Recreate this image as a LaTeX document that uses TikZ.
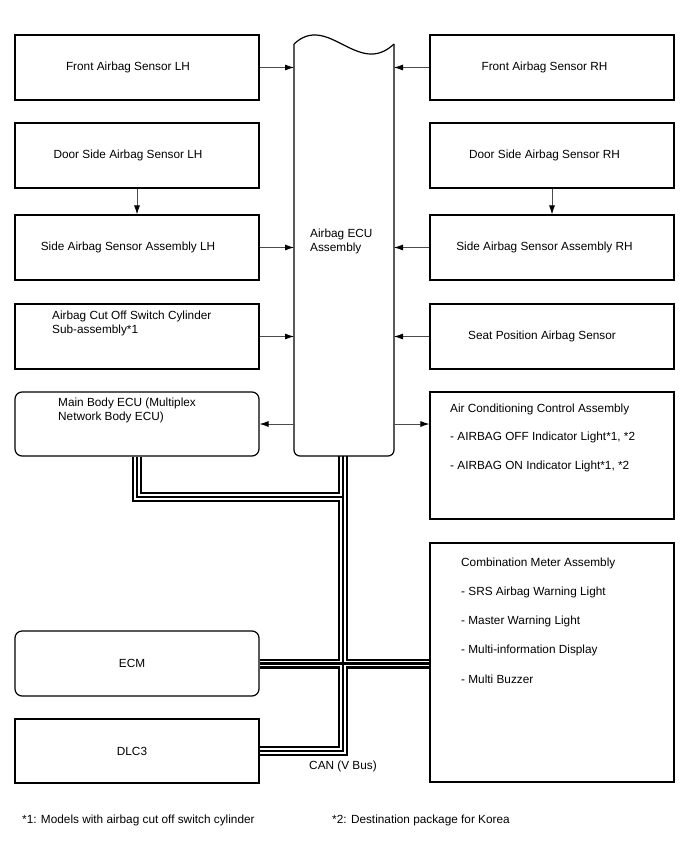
\documentclass[tikz,border=0pt]{standalone}
\usepackage{fontspec}
\setmainfont{Liberation Sans}
\usetikzlibrary{arrows.meta,backgrounds}

\begin{document}
\begin{tikzpicture}[x=1pt,y=-1pt,
	every node/.style={font=\fontsize{11.8}{14}\selectfont},
	box/.style={draw, line width=1.2pt, minimum width=244pt, minimum height=65pt, inner sep=0pt},
	rbox/.style={box, rounded corners=7pt},
	txt/.style={anchor=north west, align=left, inner sep=0pt},
	sig/.style={draw=black!70, line width=0.8pt, -{Latex[length=9pt,width=6pt,color=black]}}]
	\useasboundingbox (0,0) rectangle (688,852);

	% left column
	\node[box, label={[xshift=-9pt]center:Front Airbag Sensor LH}] (flh) at (137,67.5) {};
	\node[box, label={[xshift=-9pt]center:Door Side Airbag Sensor LH}] (dlh) at (137,155.5) {};
	\node[box, label={[xshift=-9pt]center:Side Airbag Sensor Assembly LH}] (slh) at (137,247.5) {};
	\node[box] (cut) at (137,336.5) {};
	\node[txt] (cuttxt) at (52,310.5) {Airbag Cut Off Switch Cylinder\\Sub-assembly*1};
	\node[rbox, minimum height=64pt] (mb) at (137,424) {};
	\node[txt] (mbtxt) at (58,397.5) {Main Body ECU (Multiplex\\Network Body ECU)};
	\node[rbox, label={[xshift=-5pt]center:ECM}] (ecm) at (137,663.5) {};
	\node[box, minimum height=64pt, label={[xshift=-5pt]center:DLC3}] (dlc) at (137,751) {};

	% right column
	\node[box, label={[xshift=-7.5pt]center:Front Airbag Sensor RH}] (frh) at (552,67.5) {};
	\node[box, label={[xshift=-7.5pt]center:Door Side Airbag Sensor RH}] (drh) at (552,155.5) {};
	\node[box, label={[xshift=-7.5pt]center:Side Airbag Sensor Assembly RH}] (srh) at (552,247.5) {};
	\node[box, label={[xshift=-10pt]center:Seat Position Airbag Sensor}] (seat) at (552,336.5) {};
	\node[box, minimum height=127pt] (ac) at (552,455.5) {};
	\node[txt, font=\fontsize{11.8}{28.5}\selectfont] (actxt) at (450,403.5)
		{Air Conditioning Control Assembly\\- AIRBAG OFF Indicator Light*1, *2\\- AIRBAG ON Indicator Light*1, *2};
	\node[box, minimum height=239pt] (comb) at (552,662.5) {};
	\node[txt, font=\fontsize{11.8}{29.2}\selectfont] (combtxt) at (461,557.5)
		{Combination Meter Assembly\\- SRS Airbag Warning Light\\- Master Warning Light\\- Multi-information Display\\- Multi Buzzer};

	% airbag ECU
	\coordinate (ecuL) at (294,0);
	\coordinate (ecuR) at (394,0);
	\draw[line width=1.2pt, rounded corners=6pt] (294,44) -- (294,456) -- (394,456) -- (394,44);
	\draw[line width=1.2pt] (294,44) .. controls (328,12) and (358,78) .. (394,44);
	\node[txt] (ecutxt) at (310,228.5) {Airbag ECU\\Assembly};

	% signals
	\draw[sig] (flh.east) -- (flh.east -| ecuL);
	\draw[sig] (slh.east) -- (slh.east -| ecuL);
	\draw[sig] (cut.east) -- (cut.east -| ecuL);
	\draw[sig] (frh.west) -- (frh.west -| ecuR);
	\draw[sig] (srh.west) -- (srh.west -| ecuR);
	\draw[sig] (seat.west) -- (seat.west -| ecuR);
	\draw[sig] (mb.east -| ecuL) -- (mb.east);
	\draw[sig] (mb.east -| ecuR) -- (mb.east -| ac.west);
	\draw[sig] (dlh) -- (slh);
	\draw[sig] (drh) -- (srh);

	% CAN bus
	\coordinate (bus) at (343,456);
	\coordinate (mbj) at (343,497);
	\begin{scope}[on background layer]
	\foreach \w/\c in {10/black,5.6/white,2.4/black}
	{
		\draw[line width=\w pt, \c] (bus) -- (bus |- dlc.east) -- (dlc.east);
		\draw[line width=\w pt, \c] (mb.south) |- (mbj);
		\draw[line width=\w pt, \c] (ecm.east) -- (ecm.east -| comb.west);
	}
	\end{scope}
	\node (can) at (343,766) {CAN (V Bus)};

	% notes
	\node[anchor=west, inner sep=0pt] (fn1) at (22,820) {*1: Models with airbag cut off switch cylinder};
	\node[anchor=west, inner sep=0pt] (fn2) at (332,820) {*2: Destination package for Korea};
\end{tikzpicture}
\end{document}
